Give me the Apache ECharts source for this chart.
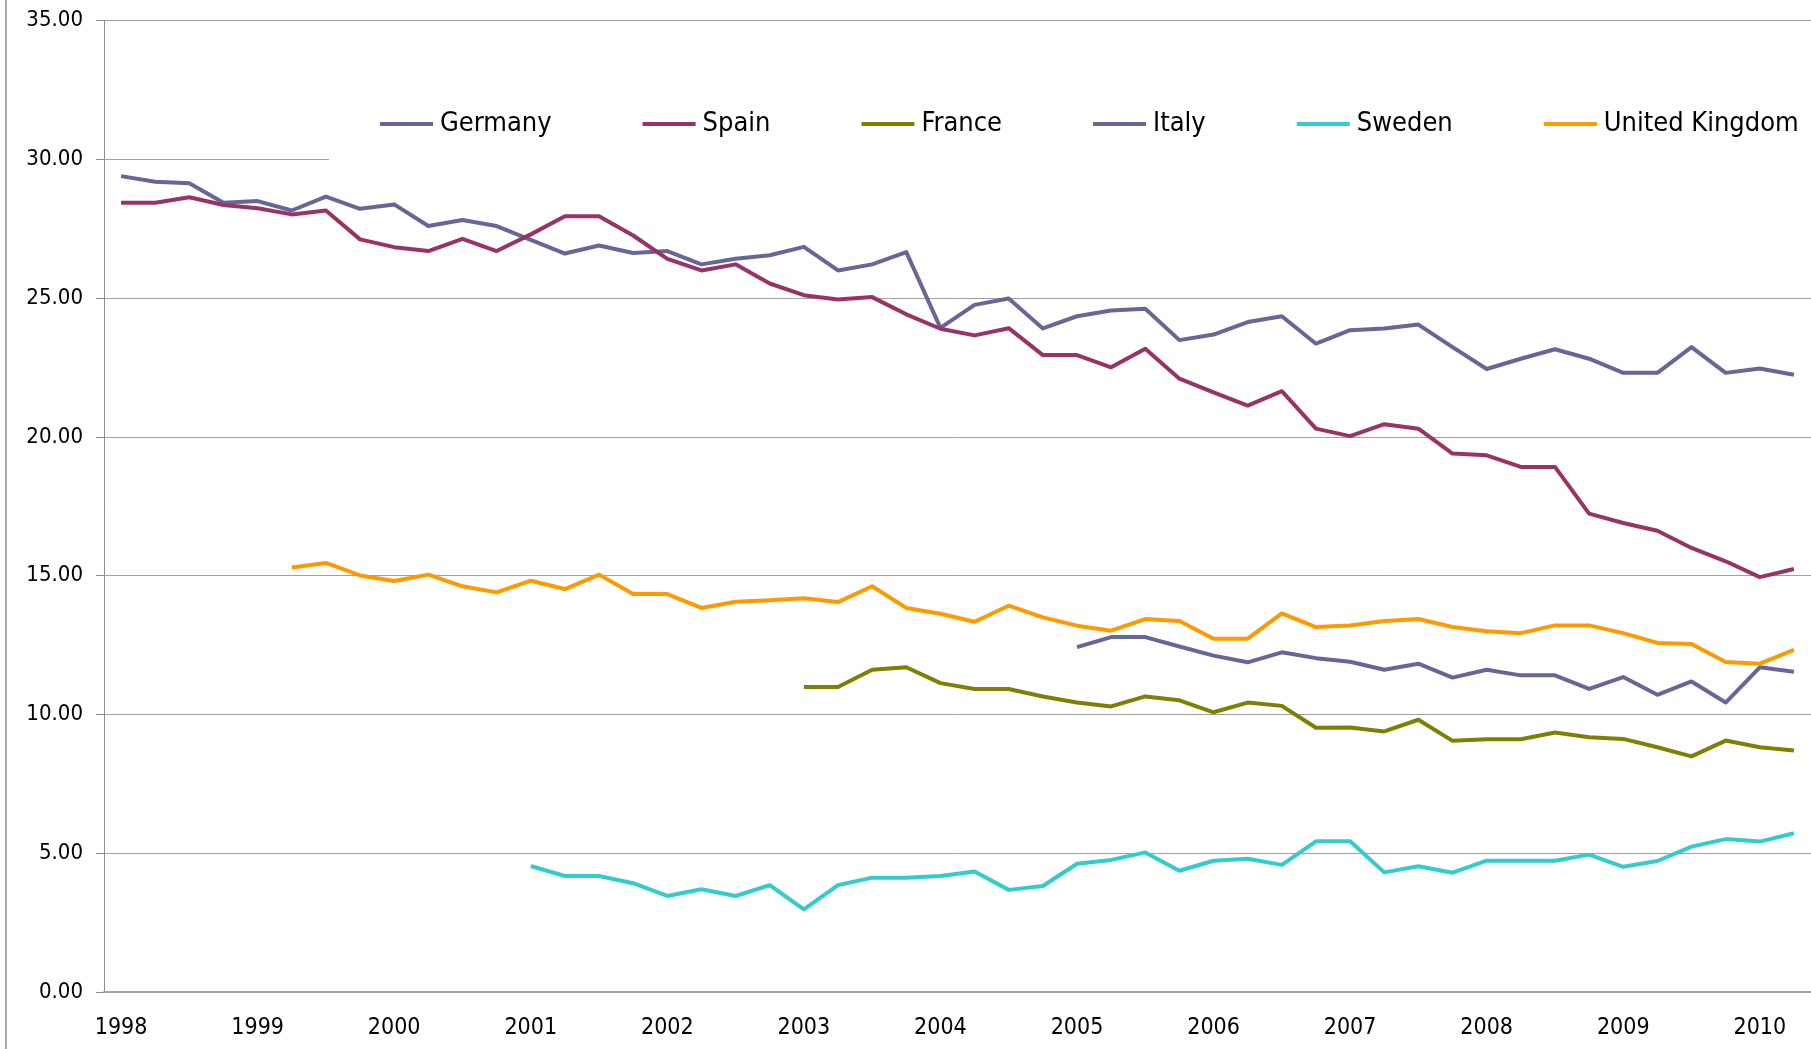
<!DOCTYPE html>
<html>
<head>
<meta charset="utf-8">
<script src="https://cdn.jsdelivr.net/npm/echarts@6/dist/echarts.min.js"></script>
<style>
  html, body { margin: 0; padding: 0; background: #fff; }
  #main { width: 1811px; height: 1049px; }
</style>
</head>
<body>
<div id="main"></div>
<script>
    // quarterly figures, 1998 Q1 .. 2010 Q2
    var years = ['1998', '1999', '2000', '2001', '2002', '2003', '2004',
                 '2005', '2006', '2007', '2008', '2009', '2010'];
    var quarters = ['Q1', 'Q2', 'Q3', 'Q4'];

    var germany = [29.40, 29.20, 29.14, 28.44, 28.50, 28.16, 28.66, 28.22, 28.38, 27.60,
                   27.82, 27.60, 27.10, 26.61, 26.90, 26.63, 26.70, 26.22, 26.42, 26.55,
                   26.85, 26.00, 26.22, 26.66, 23.93, 24.76, 24.99, 23.91, 24.35, 24.56,
                   24.62, 23.49, 23.69, 24.14, 24.35, 23.36, 23.85, 23.91, 24.05, 23.24,
                   22.45, 22.82, 23.16, 22.82, 22.31, 22.31, 23.24, 22.31, 22.47, 22.24];
    var spain = [28.44, 28.44, 28.64, 28.36, 28.24, 28.02, 28.16, 27.12, 26.84, 26.70,
                 27.14, 26.70, 27.30, 27.95, 27.95, 27.26, 26.42, 26.00, 26.22, 25.53,
                 25.11, 24.95, 25.04, 24.42, 23.90, 23.66, 23.92, 22.95, 22.95, 22.51,
                 23.18, 22.10, 21.61, 21.13, 21.65, 20.30, 20.03, 20.46, 20.30, 19.40,
                 19.34, 18.92, 18.92, 17.24, 16.90, 16.62, 16.00, 15.52, 14.95, 15.24];
    var france = [null, null, null, null, null, null, null, null, null, null,
                  null, null, null, null, null, null, null, null, null, null,
                  10.99, 10.99, 11.61, 11.70, 11.13, 10.92, 10.92, 10.65, 10.43, 10.29,
                  10.65, 10.51, 10.08, 10.43, 10.31, 9.52, 9.53, 9.39, 9.81, 9.05,
                  9.11, 9.11, 9.35, 9.18, 9.12, 8.82, 8.49, 9.06, 8.82, 8.70];
    var italy = [null, null, null, null, null, null, null, null, null, null,
                 null, null, null, null, null, null, null, null, null, null,
                 null, null, null, null, null, null, null, null, 12.43, 12.79,
                 12.79, 12.45, 12.12, 11.88, 12.24, 12.03, 11.90, 11.61, 11.83, 11.33,
                 11.61, 11.41, 11.41, 10.92, 11.35, 10.71, 11.19, 10.43, 11.70, 11.54];
    var sweden = [null, null, null, null, null, null, null, null, null, null,
                  null, null, 4.54, 4.18, 4.18, 3.92, 3.46, 3.70, 3.46, 3.85,
                  2.98, 3.85, 4.12, 4.12, 4.18, 4.34, 3.68, 3.82, 4.62, 4.76,
                  5.03, 4.37, 4.73, 4.80, 4.58, 5.43, 5.43, 4.31, 4.53, 4.30,
                  4.73, 4.73, 4.73, 4.95, 4.51, 4.72, 5.24, 5.51, 5.42, 5.72];
    var unitedKingdom = [null, null, null, null, null, 15.30, 15.46, 15.01, 14.81, 15.04,
                         14.62, 14.40, 14.82, 14.52, 15.04, 14.34, 14.34, 13.84, 14.06, 14.12,
                         14.19, 14.05, 14.62, 13.84, 13.63, 13.34, 13.92, 13.50, 13.20, 13.02,
                         13.44, 13.37, 12.73, 12.73, 13.64, 13.15, 13.21, 13.37, 13.44, 13.15,
                         13.00, 12.93, 13.21, 13.21, 12.93, 12.58, 12.54, 11.89, 11.83, 12.33];

    var categories = [];
    years.forEach(function (y) {
        quarters.forEach(function (q) { categories.push(y + ' ' + q); });
    });
    categories = categories.slice(0, germany.length);

    var font = 'DejaVu Sans Condensed';

    function line(name, data, color) {
        return {
            name: name,
            type: 'line',
            data: data,
            showSymbol: false,
            symbol: 'none',
            connectNulls: false,
            lineStyle: { color: color, width: 4, join: 'round' },
            itemStyle: { color: color }
        };
    }

    var myChart = echarts.init(document.getElementById('main'));
    option = {
        animation: false,
        backgroundColor: '#fff',
        grid: { left: 104, right: 0, top: 20.7, bottom: 57 },
        legend: {
            left: 329,
            top: 85,
            width: 1700,
            padding: [24, 60, 24, 51],
            backgroundColor: '#fff',
            itemGap: 91,
            itemWidth: 53,
            itemHeight: 4,
            icon: 'rect',
            textStyle: { fontFamily: font, fontSize: 27, color: '#000', lineHeight: 30, padding: [0, 0, 0, 2] },
            data: ['Germany', 'Spain', 'France', 'Italy', 'Sweden', 'United Kingdom']
        },
        graphic: [{
            type: 'line',
            shape: { x1: 6, y1: 0, x2: 6, y2: 1049 },
            style: { stroke: '#8c8c8c', lineWidth: 1.5 }
        }],
        xAxis: {
            type: 'category',
            data: categories,
            boundaryGap: true,
            axisLine: { lineStyle: { color: '#a6a6a6', width: 2 } },
            axisTick: { interval: 3, length: 8, lineStyle: { color: '#8c8c8c' } },
            axisLabel: {
                interval: 3,
                margin: 25,
                fontFamily: font,
                fontSize: 23,
                color: '#000',
                formatter: function (v) { return v.slice(0, 4); }
            },
            splitLine: { show: false }
        },
        yAxis: {
            type: 'value',
            min: 0,
            max: 35,
            interval: 5,
            axisLine: { show: true, lineStyle: { color: '#8c8c8c', width: 1 } },
            axisTick: { show: true, length: 8, lineStyle: { color: '#8c8c8c' } },
            axisLabel: {
                margin: 21,
                fontFamily: font,
                fontSize: 22,
                color: '#000',
                formatter: function (v) { return v.toFixed(2); }
            },
            splitLine: { lineStyle: { color: '#a0a0a0', width: 1 } }
        },
        series: [
            line('Germany', germany, '#666699'),
            line('Spain', spain, '#993366'),
            line('France', france, '#808000'),
            line('Italy', italy, '#666699'),
            line('Sweden', sweden, '#33cccc'),
            line('United Kingdom', unitedKingdom, '#ff9900')
        ]
    };
    myChart.setOption(option);
</script>
</body>
</html>
